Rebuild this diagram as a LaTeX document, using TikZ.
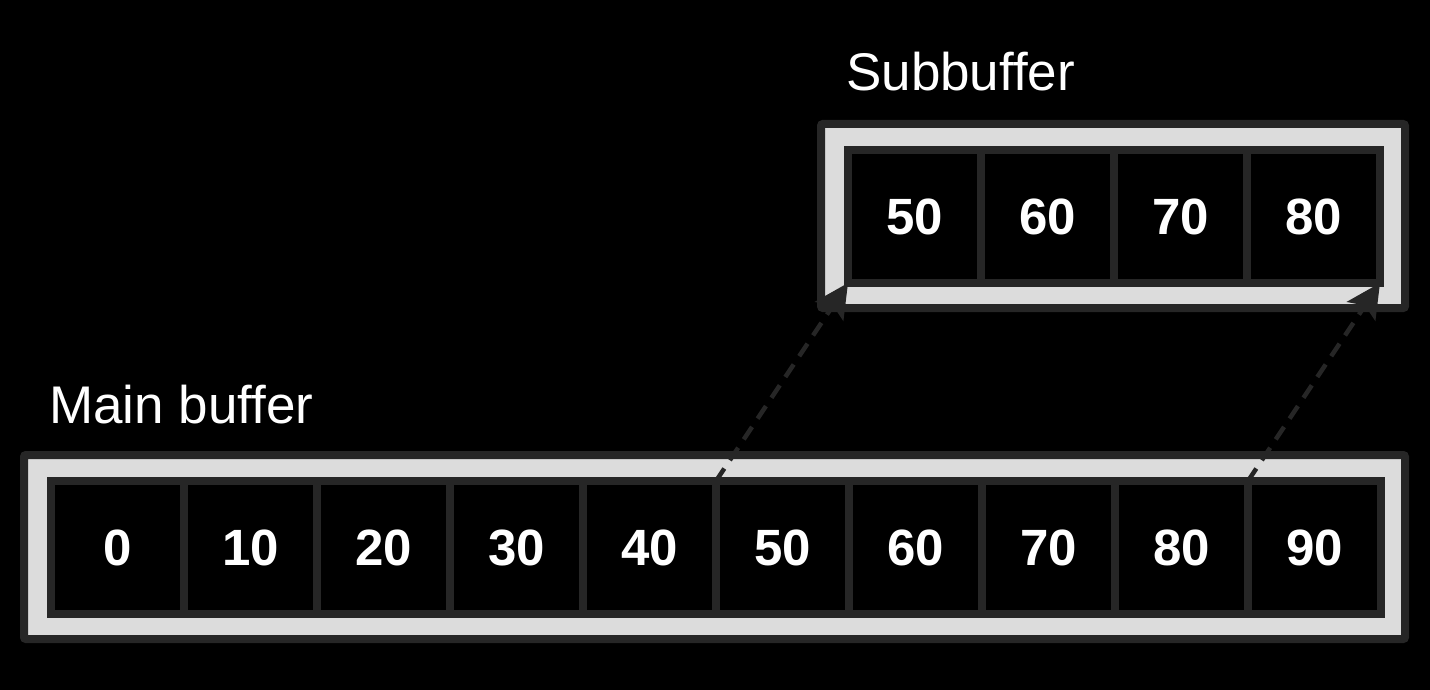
\documentclass[tikz,border=0pt]{standalone}
\usepackage{fontspec}
\setmainfont{Liberation Sans}
\usetikzlibrary{arrows.meta}
\definecolor{framegray}{HTML}{DCDCDC}
\definecolor{edgedark}{HTML}{262626}
\tikzset{
  cell/.style={rectangle, draw=edgedark, line width=8pt, fill=black, text=white,
    minimum width=133pt, minimum height=133pt, inner sep=0pt, outer sep=0pt,
    font=\fontsize{51}{60}\selectfont\bfseries},
  frame/.style={rectangle, draw=edgedark, line width=8pt, fill=framegray,
    inner sep=0pt, outer sep=0pt, rounded corners=2pt},
  label/.style={text=white, inner sep=0pt, anchor=base west,
    font=\fontsize{53}{60}\selectfont},
  link/.style={draw=edgedark, line width=4.5pt, dash pattern=on 15pt off 10pt,
    -{Stealth[length=34pt,width=34pt,inset=7pt]}}
}
\begin{document}
\begin{tikzpicture}[x=1pt,y=-1pt]
\fill[black] (0,0) rectangle (1430,690);
\useasboundingbox (0,0) rectangle (1430,690);
% frames
\node[frame, minimum width=1381pt, minimum height=184pt] (mframe) at (714.5,547) {};
\node[frame, minimum width=584pt, minimum height=184pt] (sframe) at (1113,216) {};
% main cells
\foreach \v [count=\i from 0] in {0,10,20,30,40,50,60,70,80,90}
  \node[cell] (m\i) at (117.5+133*\i,547.5) {\v};
% sub cells
\foreach \v [count=\i from 0] in {50,60,70,80}
  \node[cell] (s\i) at (914.5+133*\i,216.5) {\v};
% labels
\node[label] (slabel) at (846,91) {Subbuffer};
\node[label] (mlabel) at (49,423) {Main buffer};
% links
\draw[link] (m4.north east) -- (s0.south west);
\draw[link] (m8.north east) -- (s3.south east);
\end{tikzpicture}
\end{document}
